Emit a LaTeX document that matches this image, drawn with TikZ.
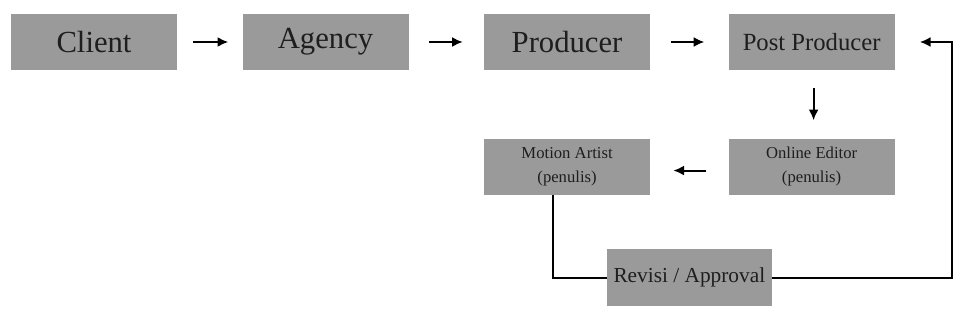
\documentclass[tikz,border=0pt]{standalone}
\usepackage{fontspec}
\setmainfont{Liberation Serif}
\usepackage{tikz}
\usetikzlibrary{arrows.meta,positioning,calc}
\definecolor{flowgray}{HTML}{9A9A9A}
\definecolor{flowtext}{HTML}{1E1E1E}
\tikzset{
    % Gray process box
    flowbox/.style={
        rectangle,
        fill=flowgray,
        text=flowtext,
        minimum width=124.5pt,
        minimum height=42pt,
        align=center,
        inner sep=2pt,
        font=\fontsize{23}{26}\selectfont
    },
    % Short arrow between boxes
    flowarrow/.style={
        -{Latex[length=8pt,width=7.5pt]},
        line width=1.5pt,
        color=black
    },
    % Feedback line
    flowline/.style={
        line width=1.5pt,
        color=black
    }
}
\begin{document}
\begin{tikzpicture}
    \useasboundingbox (0,0) rectangle (716.25pt,-248.25pt);

    \node[flowbox] (client) at (70.5pt,-31.5pt) {Client};
    \node[flowbox, right=48.75pt of client] (agency) {Agency};
    \node[flowbox, right=56.25pt of agency] (producer) {Producer};
    \node[flowbox, right=58.5pt of producer, font=\fontsize{18.5}{22}\selectfont] (postprod) {Post Producer};

    \node[flowbox, below=51pt of postprod, font=\fontsize{12.5}{18}\selectfont] (online) {Online Editor\\(penulis)};
    \node[flowbox, left=58.5pt of online, font=\fontsize{12.5}{18}\selectfont] (motion) {Motion Artist\\(penulis)};
    \node[flowbox, below=40.5pt of {$(motion.south)!0.5!(online.south)$}, anchor=north, minimum width=123.75pt, minimum height=42.75pt, font=\fontsize{16}{19}\selectfont] (revisi) {Revisi / Approval};

    \coordinate (ret) at ([xshift=42.75pt]postprod.east);

    \draw[flowarrow, shorten <=12pt, shorten >=10.5pt] (client) -- (agency);
    \draw[flowarrow, shorten <=15pt, shorten >=15.75pt] (agency) -- (producer);
    \draw[flowarrow, shorten <=15.75pt, shorten >=18pt] (producer) -- (postprod);
    \draw[flowarrow, shorten <=13.5pt, shorten >=13.5pt] ([xshift=1.5pt]postprod.south) -- ([xshift=1.5pt]online.north);
    \draw[flowarrow, shorten <=16.5pt, shorten >=17.25pt] ([yshift=-3pt]online.west) -- ([yshift=-3pt]motion.east);

    \draw[flowline] ([xshift=-10.5pt]motion.south) |- (revisi.west);
    \draw[flowarrow] (revisi.east) -| (ret) -- ([xshift=18.75pt]postprod.east);
\end{tikzpicture}
\end{document}
